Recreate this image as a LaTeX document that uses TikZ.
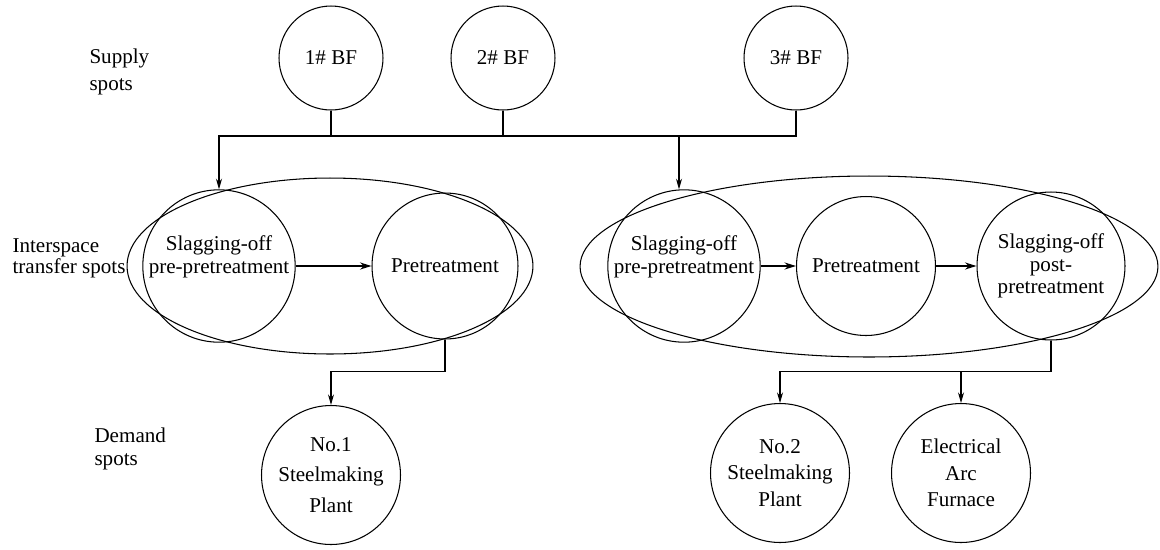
\documentclass[tikz,border=0pt]{standalone}
\usepackage{fontspec}
\setmainfont{Liberation Serif}
\usetikzlibrary{shapes.geometric,arrows.meta}
\begin{document}
\begin{tikzpicture}[x=0.02cm, y=-0.02cm,
  line width=0.6pt,
  every node/.style={font=\fontsize{12}{13}\selectfont},
  bf/.style={circle, draw, minimum size=2.08cm, inner sep=0pt},
  proc/.style={circle, draw, minimum size=2.92cm, inner sep=0pt, align=center, font=\fontsize{12}{12.8}\selectfont},
  dem/.style={circle, draw, minimum size=2.78cm, inner sep=0pt, align=center},
  grp/.style={ellipse, draw, inner sep=0pt},
  lbl/.style={anchor=west, align=left, inner sep=0pt},
  arr/.style={-{Stealth[length=6pt,width=3.4pt]}},
  thickarr/.style={line width=1.3pt, -{Stealth[length=6.5pt,width=4pt]}}
]
\useasboundingbox (0,0) rectangle (1160,549);

% side labels
\node[lbl, font=\fontsize{12}{15.5}\selectfont] (supply) at (89,72) {Supply\\spots};
\node[lbl, font=\fontsize{12}{12}\selectfont] (inter) at (12,258) {Interspace\\transfer spots};
\node[lbl, font=\fontsize{12}{13.5}\selectfont] (demand) at (94,449) {Demand\\spots};

% supply
\node[bf] (B1) at (331,58) {1\# BF};
\node[bf] (B2) at (503,58) {2\# BF};
\node[bf] (B3) at (796,58) {3\# BF};

% group ellipses
\node[grp, minimum width=8.12cm, minimum height=3.52cm] (E1) at (330,266) {};
\node[grp, minimum width=11.56cm, minimum height=3.62cm] (E2) at (869,266.5) {};

% process circles
\node[proc] (S1) at (219,266) {Slagging-off\\pre-pretreatment\\\mbox{}};
\node[proc] (P1) at (445,266) {Pretreatment};
\node[proc] (S2) at (684,266) {Slagging-off\\pre-pretreatment\\\mbox{}};
\node[proc, minimum size=2.78cm] (P2) at (866,266) {Pretreatment};
\node[proc, minimum size=2.96cm] (T2) at (1051,266) {Slagging-off\\post-\\pretreatment};

% demand
\node[dem, font=\fontsize{12}{17.5}\selectfont] (D1) at (331,475) {No.1\\Steelmaking\\Plant};
\node[dem, font=\fontsize{12}{15}\selectfont] (D2) at (780,473) {No.2\\Steelmaking\\Plant};
\node[dem, font=\fontsize{12}{15}\selectfont] (D3) at (961,473) {Electrical\\Arc\\Furnace};

% supply bus
\coordinate (busL) at (219,136);
\coordinate (busM) at (679,136);
\draw[arr] (B3.south) |- (busL) -- (S1.north);
\draw (B1.south) -- (B1.south |- busL);
\draw (B2.south) -- (B2.south |- busL);
\draw[arr] (busM) -- (busM |- S2.north);

% process arrows
\draw[thickarr] (S1) -- (P1);
\draw[thickarr] (S2) -- (P2);
\draw[thickarr] (P2) -- (T2);

% outputs
\draw[arr] (P1.south) -- ++(0,32) -| (D1.north);
\draw[arr] (T2.south) -- ++(0,31) coordinate (j2) -| (D2.north);
\draw[arr] (D3.north |- j2) -- (D3.north);
\end{tikzpicture}
\end{document}
